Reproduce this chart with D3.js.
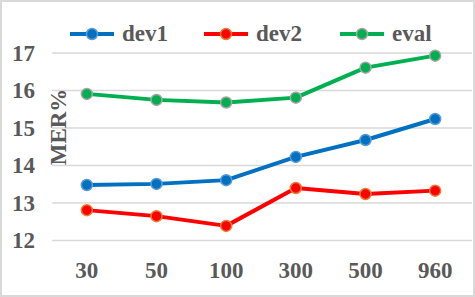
<!DOCTYPE html>
<html>
<head>
<meta charset="utf-8">
<script src="https://cdn.jsdelivr.net/npm/d3@7"></script>
<style>
  body { margin: 0; background: #fff; }
</style>
</head>
<body>
<div id="chart"></div>
<script>
// data
var categories = ["30", "50", "100", "300", "500", "960"];
var dev1 = [13.48, 13.51, 13.61, 14.23, 14.68, 15.24];
var dev2 = [12.81, 12.65, 12.39, 13.40, 13.24, 13.33];
var evalSet = [15.91, 15.75, 15.68, 15.81, 16.61, 16.93];
var yTicks = [12, 13, 14, 15, 16, 17];

var series = [
  { name: "dev1", values: dev1, color: "#0070C0", marker: "#5B9BD5" },
  { name: "dev2", values: dev2, color: "#FF0000", marker: "#ED7D31" },
  { name: "eval", values: evalSet, color: "#00B050", marker: "#A5A5A5" }
];

var fontFamily = "'Liberation Serif', 'Times New Roman', serif";
var textColor = "#595959";

function styleText(sel) {
  sel.style("font-family", fontFamily)
    .style("font-weight", "bold")
    .style("font-size", "23px")
    .style("fill", textColor);
}

var svgWidth = 475;
var svgHeight = 297;

var svg = d3.select("#chart")
  .append("svg")
  .attr("width", svgWidth)
  .attr("height", svgHeight);

// outer border
svg.append("rect")
  .attr("x", 1).attr("y", 1)
  .attr("width", svgWidth - 2).attr("height", svgHeight - 2)
  .attr("fill", "#fff")
  .attr("stroke", "#d9d9d9")
  .attr("stroke-width", 2);

var xScale = d3.scaleBand()
  .domain(categories)
  .range([52, 470]);

var yScale = d3.scaleLinear()
  .domain([12, 17])
  .range([240.5, 53]);

// gridlines
svg.append("g")
  .selectAll("line")
  .data(yTicks)
  .enter()
  .append("line")
  .attr("x1", 52)
  .attr("x2", 472)
  .attr("y1", d => yScale(d))
  .attr("y2", d => yScale(d))
  .attr("stroke", "#d9d9d9")
  .attr("stroke-width", 1.5);

// y axis labels
var leftAxis = d3.axisLeft(yScale).tickValues(yTicks).tickFormat(d3.format("d")).tickSize(0).tickPadding(0);
var yAxis = svg.append("g")
  .attr("transform", "translate(35, 0)")
  .call(leftAxis);
yAxis.select(".domain").remove();
yAxis.selectAll("text")
  .call(styleText)
  .attr("dy", "0.32em");

// x axis labels
var bottomAxis = d3.axisBottom(xScale).tickSize(0).tickPadding(0);
var xAxis = svg.append("g")
  .attr("transform", "translate(0, 262)")
  .call(bottomAxis);
xAxis.select(".domain").remove();
xAxis.selectAll("text")
  .call(styleText)
  .attr("dy", "0.7em");

// y axis title
svg.append("text")
  .attr("transform", "translate(66, 127) rotate(-90)")
  .attr("text-anchor", "middle")
  .call(styleText)
  .text("MER%");

var line = d3.line()
  .x((d, i) => xScale(categories[i]) + xScale.bandwidth() / 2)
  .y(d => yScale(d));

series.forEach(function(s) {
  svg.append("path")
    .datum(s.values)
    .attr("d", line)
    .attr("fill", "none")
    .attr("stroke", s.color)
    .attr("stroke-width", 4)
    .attr("stroke-linejoin", "round");

  svg.append("g")
    .selectAll("circle")
    .data(s.values)
    .enter()
    .append("circle")
    .attr("cx", (d, i) => xScale(categories[i]) + xScale.bandwidth() / 2)
    .attr("cy", d => yScale(d))
    .attr("r", 5.5)
    .attr("fill", s.color)
    .attr("stroke", s.marker)
    .attr("stroke-width", 1.5);
});

// legend
var legendX = [70, 204, 340];
var legend = svg.append("g");
series.forEach(function(s, i) {
  var g = legend.append("g").attr("transform", `translate(${legendX[i]}, 34)`);
  g.append("line")
    .attr("x1", 0).attr("x2", 44)
    .attr("stroke", s.color)
    .attr("stroke-width", 4);
  g.append("circle")
    .attr("cx", 22).attr("r", 5.5)
    .attr("fill", s.color)
    .attr("stroke", s.marker)
    .attr("stroke-width", 1.5);
  g.append("text")
    .attr("x", 52)
    .attr("dy", "0.32em")
    .call(styleText)
    .text(s.name);
});
</script>
</body>
</html>
